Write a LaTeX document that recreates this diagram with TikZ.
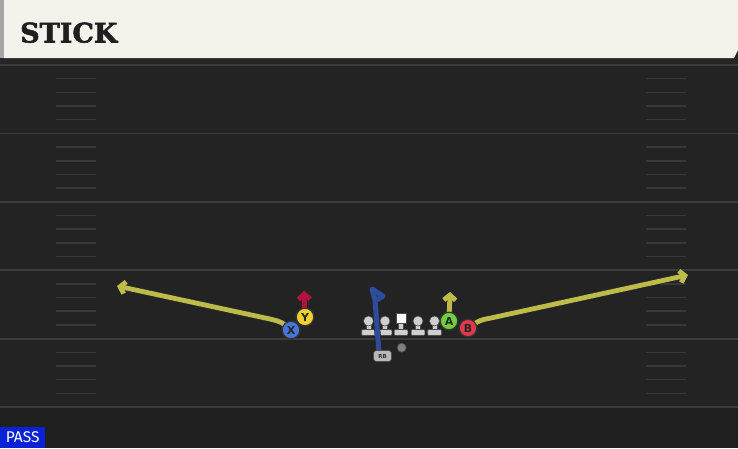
\documentclass[tikz,border=0pt]{standalone}
\usepackage{fontspec}
\usetikzlibrary{arrows.meta}
\newfontfamily\titlefont[BoldFeatures={FakeBold=2}]{DejaVu Serif}
\newfontfamily\passfont{Fira Sans}
\newfontfamily\plfont{DejaVu Sans}
\definecolor{fieldbg}{HTML}{232323}
\definecolor{fieldlow}{HTML}{1F1F1F}
\definecolor{cream}{HTML}{F5F2EB}
\definecolor{yardln}{HTML}{3C3C3C}
\definecolor{hashln}{HTML}{383838}
\definecolor{routey}{HTML}{BDBB4A}
\definecolor{router}{HTML}{B3123A}
\definecolor{routeb}{HTML}{2E4C9E}
\definecolor{xfill}{HTML}{4675D9}
\definecolor{yfill}{HTML}{F2CF2E}
\definecolor{afill}{HTML}{71CF3F}
\definecolor{bfill}{HTML}{E2384A}
\definecolor{linegrey}{HTML}{CFCFCF}
\definecolor{passblue}{HTML}{0A22D6}
\tikzset{
  yard/.style={draw=yardln, line width=1.8pt},
  hash/.style={draw=hashln, line width=1.5pt},
  route/.style={line width=4.8pt, line cap=round, line join=round,
    preaction={draw=black!85, line width=6.6pt}},
  rtip/.style={-{Straight Barb[length=5pt,width=12pt]}},
  player/.style={circle, draw=black!80, line width=1.2pt, minimum size=17.5pt, inner sep=0pt,
    font=\plfont\bfseries\fontsize{11}{11}\selectfont, text=black!85},
  olhead/.style={circle, fill=linegrey, draw=black!70, line width=0.6pt, minimum size=10pt, inner sep=0pt},
  olbody/.style={fill=linegrey, draw=black!70, line width=0.6pt},
}
\begin{document}
\begin{tikzpicture}[x=1pt,y=-1pt]
\useasboundingbox (0,0) rectangle (738,448);
% field
\fill[fieldbg] (0,0) rectangle (738,448);
\fill[fieldlow] (0,407) rectangle (738,448);
\fill[black!85] (0,56) rectangle (738,63);
% yard lines
\foreach \k in {0,...,5} {
  \draw[yard] (0,{65+68.4*\k}) -- (738,{65+68.4*\k});
}
% hash marks
\foreach \k in {0,...,4} {
  \foreach \j in {1,2,3,4} {
    \draw[hash] (56,{65+68.4*\k+13.68*\j}) -- (96,{65+68.4*\k+13.68*\j});
    \draw[hash] (646,{65+68.4*\k+13.68*\j}) -- (686,{65+68.4*\k+13.68*\j});
  }
}
% header
\fill[cream] (4,0) -- (738,0) -- (738,50) -- (734,58) -- (4,58) -- cycle;
\fill[black!35] (0,0) rectangle (4,58);
\node[anchor=base west, inner sep=0pt, font=\titlefont\bfseries\fontsize{27}{27}\selectfont, text=black!88] (title) at (20,42.5) {STICK};
% coordinates
\coordinate (xbend) at (270,319);
\coordinate (xend) at (117,286);
\coordinate (bbend) at (491,318);
\coordinate (bend) at (688,275);
\coordinate (yend) at (304,291);
\coordinate (aend) at (450,292);
\coordinate (rb1) at (375,300);
\coordinate (rb2) at (372,289);
\coordinate (rb3) at (383,296);
\coordinate (rb4) at (377,300);
% player nodes
\path (291,330) node[player, fill=xfill] (X) {X};
\path (305,317) node[player, fill=yfill] (Y) {Y};
\path (449,321) node[player, fill=afill] (A) {A};
\path (468,328) node[player, fill=bfill] (B) {B};
% routes
\draw[route, draw=routey, rtip] (X.center) .. controls (282,322) .. (xbend) -- (xend);
\draw[route, draw=routey, rtip] (B.center) .. controls (480,320) .. (bbend) -- (bend);
\draw[route, draw=router, rtip] (Y.center) -- (yend);
\draw[route, draw=routey, rtip] (A.center) -- (aend);
% redraw players on top
\path (291,330) node[player, fill=xfill] (X2) {X};
\path (305,317) node[player, fill=yfill] (Y2) {Y};
\path (449,321) node[player, fill=afill] (A2) {A};
\path (468,328) node[player, fill=bfill] (B2) {B};
% offensive line
\foreach \i/\x in {1/368.5,2/385,4/418,5/434.5} {
  \draw[olbody] (\x-2.6,322) rectangle (\x+2.6,330.5);
  \draw[olbody, rounded corners=1pt] (\x-6.8,329.5) rectangle (\x+6.8,335.5);
  \node[olhead] (ol\i) at (\x,321) {};
}
\draw[olbody] (401-2.6,322) rectangle (401+2.6,330.5);
\draw[olbody, rounded corners=1pt] (401-6.8,329.5) rectangle (401+6.8,335.5);
\node[draw=black!70, fill=white, line width=0.6pt, minimum size=10pt, inner sep=0pt] (C) at (401,318) {};
% QB / ball
\node[fill=black!50, circle, minimum size=9pt, inner sep=0pt, draw=black!70, line width=0.6pt] (QB) at (401.7,347.7) {};
% RB route
\draw[line width=5pt, draw=routeb, line join=round, preaction={draw=black!85, line width=6.2pt}] (379,352) -- (rb1) -- (rb2) -- (rb3) -- (rb4);
\node[fill=black!28, draw=black!70, line width=0.6pt, rounded corners=3pt, minimum width=18pt, minimum height=11pt, inner sep=0pt,
  font=\plfont\bfseries\fontsize{5.5}{5.5}\selectfont, text=black!80] (RB) at (382.5,356) {RB};
% PASS label
\node[fill=passblue, anchor=south west, minimum width=45pt, minimum height=21pt, inner sep=0pt,
  font=\passfont\fontsize{15.5}{15.5}\selectfont, text=white] (pass) at (0,448) {PASS};
\end{tikzpicture}
\end{document}
